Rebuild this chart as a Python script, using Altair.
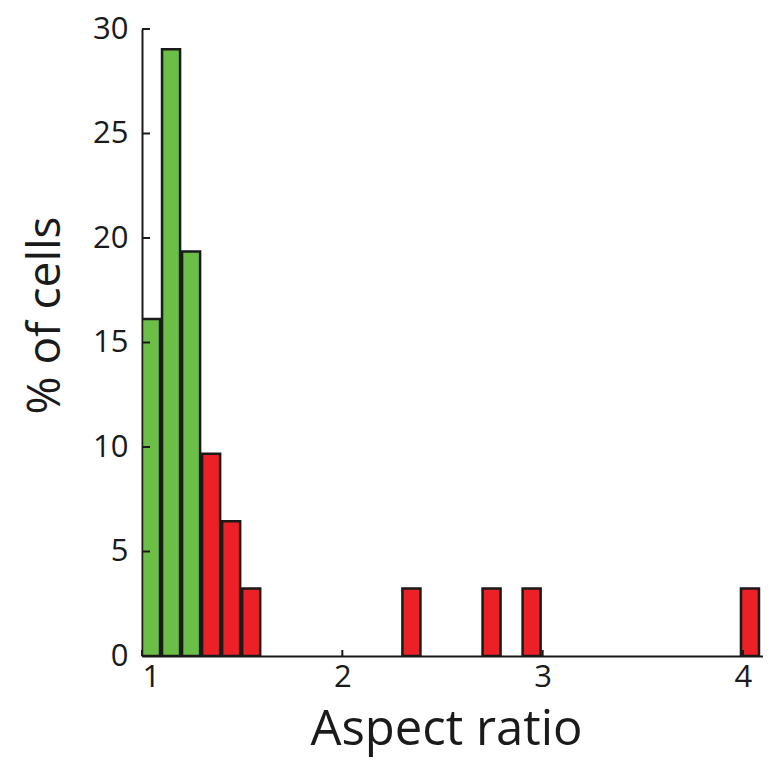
import altair as alt
import pandas as pd

bin_start = [1.0, 1.1, 1.2, 1.3, 1.4, 1.5, 2.3, 2.7, 2.9, 3.99]
bin_end = [1.09, 1.19, 1.29, 1.39, 1.49, 1.59, 2.39, 2.79, 2.99, 4.08]
percent = [16.13, 29.03, 19.35, 9.68, 6.45, 3.23, 3.23, 3.23, 3.23, 3.23]
group = ["round", "round", "round", "elongated", "elongated", "elongated",
         "elongated", "elongated", "elongated", "elongated"]
x_ticks = [1, 2, 3, 4]
y_ticks = [0, 5, 10, 15, 20, 25, 30]

W, H = 621, 627
FONT = "Open Sans"
INK = "#1a1a1a"

df = pd.DataFrame({"x0": bin_start, "x1": bin_end, "pct": percent, "group": group})
xt = pd.DataFrame({"v": x_ticks})
yt = pd.DataFrame({"v": y_ticks})

xscale = alt.Scale(domain=[1, 4.10], nice=False, zero=False)
yscale = alt.Scale(domain=[0, 30], nice=False)

bars = alt.Chart(df).mark_bar(stroke=INK, strokeWidth=2.5, clip=True).encode(
    x=alt.X("x0:Q", scale=xscale,
            axis=alt.Axis(title="Aspect ratio", values=x_ticks, format="d", grid=False,
                          ticks=False, domainColor=INK, domainWidth=2,
                          labelFont=FONT, labelFontSize=31, labelColor=INK,
                          labelPadding=6, titleFont=FONT, titleFontSize=49,
                          titleFontWeight="normal", titleColor=INK,
                          titleBaseline="alphabetic", titleAlign="center",
                          titleX=304, titleY=88)),
    x2="x1:Q",
    y=alt.Y("pct:Q", scale=yscale,
            axis=alt.Axis(title="% of cells", values=y_ticks, grid=False, ticks=False,
                          domainColor=INK, domainWidth=2,
                          labelFont=FONT, labelFontSize=31, labelColor=INK,
                          labelPadding=14, titleFont=FONT, titleFontSize=46,
                          titleFontWeight="normal", titleColor=INK,
                          titleAngle=-90, titleBaseline="alphabetic", titleAlign="center",
                          titleX=-83, titleY=286)),
    y2=alt.datum(0),
    color=alt.Color("group:N", scale=alt.Scale(domain=["round", "elongated"],
                                               range=["#6cbf46", "#ec2027"]), legend=None),
)

ytick_marks = alt.Chart(yt).mark_rule(color=INK, strokeWidth=2).encode(
    y=alt.Y("v:Q", scale=yscale), x=alt.value(0), x2=alt.value(8)
)
xtick_marks = alt.Chart(xt).mark_rule(color=INK, strokeWidth=2).encode(
    x=alt.X("v:Q", scale=xscale), y=alt.value(H), y2=alt.value(H - 6)
)

chart = alt.layer(bars, ytick_marks, xtick_marks).properties(
    width=W, height=H,
    background="white",
    autosize=alt.AutoSizeParams(type="none"),
    padding={"left": 134, "top": 21, "right": 0, "bottom": 101},
).configure_view(stroke=None)

chart.save("out.html", embed_options={"renderer": "svg", "actions": False})
